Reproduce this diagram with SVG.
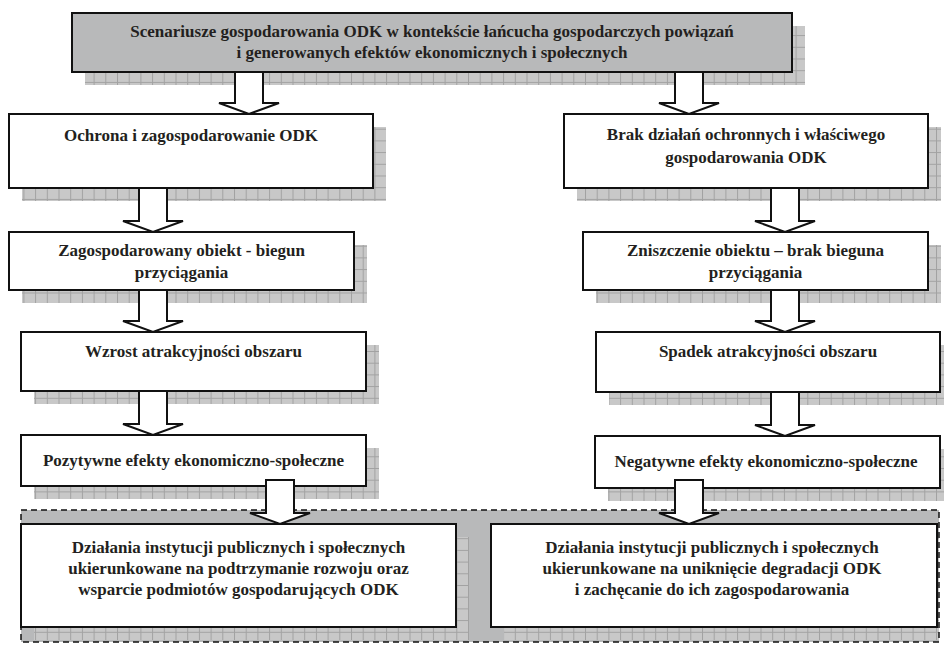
<svg xmlns="http://www.w3.org/2000/svg" width="944" height="645" viewBox="0 0 944 645">
<defs>
<pattern id="grid" width="11.7" height="11.7" patternUnits="userSpaceOnUse">
<rect width="11.7" height="11.7" fill="#c8c8c8"/>
<path d="M0.5,0 V11.7 M0,0.5 H11.7" stroke="#a2a2a2" stroke-width="1" fill="none"/>
</pattern>
<style>
.box{fill:#fff;stroke:#111;stroke-width:2}
.gbox{fill:#b8b9ba;stroke:#111;stroke-width:2}
.sh{fill:url(#grid)}
.t{font-family:"Liberation Serif","Times New Roman",serif;font-weight:bold;font-size:17px;fill:#231f20;text-anchor:middle}
.arr{fill:#fff;stroke:#111;stroke-width:2;stroke-linejoin:miter}
.cont{fill:#b8b9ba;stroke:none}
.dash{fill:none;stroke:#111;stroke-width:1.5;stroke-dasharray:6,4}
</style>
</defs>

<g id="top">
<rect class="sh" x="85" y="26" width="720" height="59"/>
<rect class="gbox" x="72" y="13" width="720" height="59"/>
<text class="t" x="432" y="37">Scenariusze gospodarowania ODK w kontekście łańcucha gospodarczych powiązań</text>
<text class="t" x="432" y="58">i generowanych efektów ekonomicznych i społecznych</text>
</g>

<g id="ochrona">
<rect class="sh" x="22" y="127" width="364" height="74"/>
<rect class="box" x="9" y="114" width="364" height="74"/>
<text class="t" x="191" y="141">Ochrona i zagospodarowanie ODK</text>
</g>

<g id="brak">
<rect class="sh" x="577" y="127" width="364" height="74"/>
<rect class="box" x="564" y="114" width="364" height="74"/>
<text class="t" x="746" y="140">Brak działań ochronnych i właściwego</text>
<text class="t" x="746" y="163">gospodarowania ODK</text>
</g>

<g id="zagospodarowany">
<rect class="sh" x="22" y="245" width="345" height="58"/>
<rect class="box" x="9" y="232" width="345" height="58"/>
<text class="t" x="181.5" y="256">Zagospodarowany obiekt - biegun</text>
<text class="t" x="181.5" y="278">przyciągania</text>
</g>

<g id="zniszczenie">
<rect class="sh" x="596" y="245" width="345" height="58"/>
<rect class="box" x="583" y="232" width="345" height="58"/>
<text class="t" x="755.5" y="256">Zniszczenie obiektu – brak bieguna</text>
<text class="t" x="755.5" y="278">przyciągania</text>
</g>

<g id="wzrost">
<rect class="sh" x="34" y="345" width="345" height="59"/>
<rect class="box" x="21" y="332" width="345" height="59"/>
<text class="t" x="193.5" y="357">Wzrost atrakcyjności obszaru</text>
</g>

<g id="spadek">
<rect class="sh" x="609" y="345" width="345" height="60"/>
<rect class="box" x="596" y="332" width="344" height="60"/>
<text class="t" x="768" y="357">Spadek atrakcyjności obszaru</text>
</g>

<g id="pozytywne">
<rect class="sh" x="34" y="448" width="345" height="51"/>
<rect class="box" x="21" y="435" width="345" height="51"/>
<text class="t" x="193.5" y="466">Pozytywne efekty ekonomiczno-społeczne</text>
</g>

<g id="negatywne">
<rect class="sh" x="608" y="449" width="345" height="52"/>
<rect class="box" x="595" y="436" width="345" height="52"/>
<text class="t" x="766" y="467">Negatywne efekty ekonomiczno-społeczne</text>
</g>

<g id="dzialania">
<rect class="cont" x="21" y="510" width="918" height="132"/>
<g id="dzialania-lewe">
<rect class="sh" x="34" y="537" width="435" height="103"/>
<rect class="box" x="21" y="524" width="435" height="103"/>
<text class="t" x="238.5" y="553">Działania instytucji publicznych i społecznych</text>
<text class="t" x="238.5" y="574">ukierunkowane na podtrzymanie rozwoju oraz</text>
<text class="t" x="238.5" y="595">wsparcie podmiotów gospodarujących ODK</text>
</g>
<g id="dzialania-prawe">
<rect class="sh" x="504" y="537" width="435" height="103"/>
<rect class="box" x="491" y="524" width="446" height="103"/>
<text class="t" x="712" y="553">Działania instytucji publicznych i społecznych</text>
<text class="t" x="712" y="574">ukierunkowane na uniknięcie degradacji ODK</text>
<text class="t" x="712" y="595">i zachęcanie do ich zagospodarowania</text>
</g>
<rect class="dash" x="21" y="510" width="918" height="132"/>
</g>

<g id="connectors">
<polygon class="arr" points="235,72 263,72 263,103 279,103 249,114 219,103 235,103"/>
<polygon class="arr" points="675,72 703,72 703,103 719,103 689,114 659,103 675,103"/>
<polygon class="arr" points="139,188 167,188 167,221 183,221 153,232 123,221 139,221"/>
<polygon class="arr" points="139,290 167,290 167,321 183,321 153,332 123,321 139,321"/>
<polygon class="arr" points="139,391 167,391 167,424 183,424 153,435 123,424 139,424"/>
<polygon class="arr" points="771,188 799,188 799,221 815,221 785,232 755,221 771,221"/>
<polygon class="arr" points="771,290 799,290 799,321 815,321 785,332 755,321 771,321"/>
<polygon class="arr" points="771,392 799,392 799,425 815,425 785,436 755,425 771,425"/>
<polygon class="arr" points="266,480 294,480 294,513 310,513 280,524 250,513 266,513"/>
<polygon class="arr" points="675,480 703,480 703,513 719,513 689,524 659,513 675,513"/>
</g>
</svg>
